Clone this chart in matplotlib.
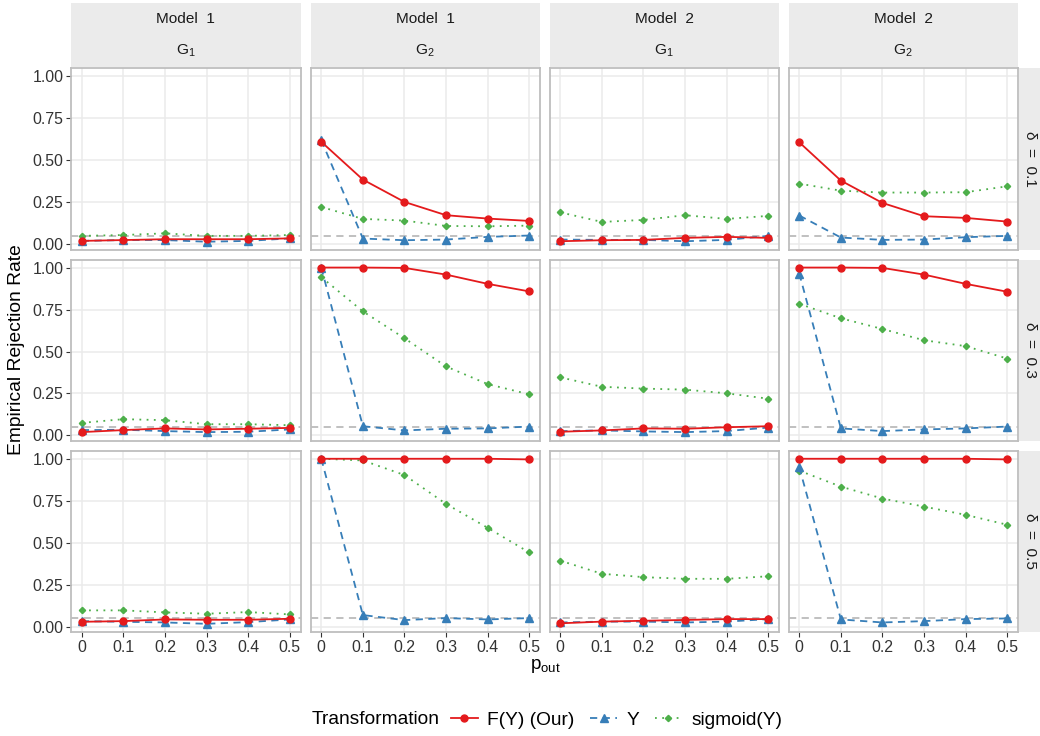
import matplotlib
matplotlib.use("Agg")
import matplotlib.pyplot as plt
from matplotlib.lines import Line2D

plt.rcParams['font.family'] = ['Liberation Sans', 'DejaVu Sans']
plt.rcParams['mathtext.fontset'] = 'custom'
plt.rcParams['mathtext.rm'] = 'Liberation Sans'
plt.rcParams['mathtext.it'] = 'Liberation Sans:italic'

p_out = [0, 0.1, 0.2, 0.3, 0.4, 0.5]
models = ["Model  1", "Model  1", "Model  2", "Model  2"]
groups = ["1", "2", "1", "2"]
deltas = ["0.1", "0.3", "0.5"]
alpha_level = 0.05

# values per column (Model/G), each a list over delta = 0.1, 0.3, 0.5
f_y = [
    [[0.02, 0.025, 0.03, 0.03, 0.03, 0.035],
     [0.02, 0.032, 0.042, 0.036, 0.04, 0.045],
     [0.029, 0.033, 0.043, 0.041, 0.041, 0.047]],
    [[0.61, 0.385, 0.252, 0.173, 0.153, 0.139],
     [1.0, 1.0, 0.998, 0.958, 0.903, 0.858],
     [1.0, 1.0, 1.0, 1.0, 1.0, 0.996]],
    [[0.018, 0.024, 0.026, 0.038, 0.044, 0.038],
     [0.022, 0.03, 0.042, 0.04, 0.049, 0.055],
     [0.02, 0.03, 0.035, 0.04, 0.045, 0.045]],
    [[0.607, 0.379, 0.246, 0.167, 0.157, 0.135],
     [1.0, 1.0, 0.998, 0.958, 0.903, 0.856],
     [1.0, 1.0, 1.0, 1.0, 1.0, 0.996]],
]
y_raw = [
    [[0.02, 0.025, 0.025, 0.015, 0.02, 0.035],
     [0.032, 0.034, 0.026, 0.02, 0.022, 0.036],
     [0.033, 0.029, 0.025, 0.017, 0.027, 0.043]],
    [[0.62, 0.034, 0.024, 0.028, 0.044, 0.052],
     [1.0, 0.055, 0.03, 0.04, 0.042, 0.053],
     [1.0, 0.069, 0.039, 0.051, 0.043, 0.051]],
    [[0.028, 0.026, 0.026, 0.018, 0.026, 0.05],
     [0.026, 0.03, 0.024, 0.02, 0.026, 0.047],
     [0.025, 0.03, 0.03, 0.025, 0.03, 0.045]],
    [[0.171, 0.04, 0.026, 0.028, 0.042, 0.05],
     [0.964, 0.042, 0.026, 0.036, 0.042, 0.053],
     [0.949, 0.043, 0.025, 0.033, 0.045, 0.049]],
]
sig_y = [
    [[0.05, 0.055, 0.065, 0.05, 0.05, 0.055],
     [0.075, 0.097, 0.091, 0.067, 0.067, 0.061],
     [0.097, 0.097, 0.085, 0.077, 0.087, 0.073]],
    [[0.222, 0.151, 0.141, 0.109, 0.107, 0.111],
     [0.943, 0.739, 0.579, 0.411, 0.306, 0.245],
     [1.0, 0.99, 0.903, 0.731, 0.589, 0.442]],
    [[0.19, 0.133, 0.145, 0.173, 0.151, 0.169],
     [0.346, 0.29, 0.279, 0.273, 0.251, 0.219],
     [0.393, 0.315, 0.295, 0.285, 0.285, 0.30]],
    [[0.361, 0.319, 0.308, 0.308, 0.31, 0.345],
     [0.784, 0.698, 0.634, 0.567, 0.532, 0.458],
     [0.929, 0.834, 0.763, 0.715, 0.666, 0.607]],
]

series_names = ["F(Y) (Our)", "Y", "sigmoid(Y)"]
colors = ["#E41A1C", "#377EB8", "#4DAF4A"]
styles = ["-", (0, (4, 3)), (0, (1, 3))]
marks = ["o", "^", "D"]
msizes = [5, 5.5, 3.2]

W, H = 1040, 736
fig = plt.figure(figsize=(W / 100, H / 100), dpi=100)

col_left = [71, 310.5, 549.5, 788.5]
col_w = 229.5
row_top = [68.3, 259.5, 450.7]
row_h = 181.5
tick_col = "#333333"

for c in range(4):
    for r in range(3):
        ax = fig.add_axes([col_left[c] / W, 1 - (row_top[r] + row_h) / H, col_w / W, row_h / H])
        ax.set_xlim(-0.026, 0.526)
        ax.set_ylim(-0.033, 1.048)
        ax.set_xticks(p_out)
        ax.set_yticks([0, 0.25, 0.5, 0.75, 1.0])
        ax.grid(True, color="#EBEBEB", lw=1.1)
        ax.set_axisbelow(True)
        for s in ax.spines.values():
            s.set_color("#BEBEBE")
            s.set_linewidth(1.3)
        ax.axhline(alpha_level, color="#BBBBBB", lw=1.3, ls=(0, (4, 3)), zorder=1)
        data = [f_y[c][r], y_raw[c][r], sig_y[c][r]]
        for k in range(3):
            ax.plot(p_out, data[k], color=colors[k], ls=styles[k], lw=1.3,
                    marker=marks[k], ms=msizes[k], zorder=3 + (2 - k))
        ax.tick_params(length=3.5, width=0.8, color=tick_col, labelcolor=tick_col,
                       labelsize=11.4, pad=2)
        if c == 0:
            ax.set_yticklabels(["0.00", "0.25", "0.50", "0.75", "1.00"])
        else:
            ax.tick_params(axis="y", length=0, labelleft=False)
        if r == 2:
            ax.set_xticklabels(["0", "0.1", "0.2", "0.3", "0.4", "0.5"])
        else:
            ax.tick_params(axis="x", length=0, labelbottom=False)

# top strips
for c in range(4):
    sx = fig.add_axes([col_left[c] / W, 1 - 66.7 / H, col_w / W, 64 / H])
    sx.set_facecolor("#EBEBEB")
    sx.set_xticks([])
    sx.set_yticks([])
    for s in sx.spines.values():
        s.set_visible(False)
    sx.text(0.5, 1 - (19 - 2.7) / 64, models[c], ha="center", va="center",
            fontsize=11.1, color="#1A1A1A", transform=sx.transAxes)
    sx.text(0.5, 1 - (50.5 - 2.7) / 64, r"$\mathregular{G_" + groups[c] + "}$", ha="center",
            va="center", fontsize=11.1, color="#1A1A1A", transform=sx.transAxes)

# right strips
for r in range(3):
    sx = fig.add_axes([1019 / W, 1 - (row_top[r] + row_h) / H, 21 / W, row_h / H])
    sx.set_facecolor("#EBEBEB")
    sx.set_xticks([])
    sx.set_yticks([])
    for s in sx.spines.values():
        s.set_visible(False)
    sx.text(0.5, 0.5, "δ  =  " + deltas[r], rotation=270, ha="center", va="center",
            fontsize=11.1, color="#1A1A1A", transform=sx.transAxes)

fig.text(17 / W, 1 - 350 / H, "Empirical Rejection Rate", rotation=90, ha="center",
         va="center", fontsize=13.9)
fig.text(545 / W, 1 - 666 / H, r"$\mathregular{p_{out}}$", ha="center", va="center",
         fontsize=13.5)

fig.text(312 / W, 1 - 720 / H, "Transformation", ha="left", va="center", fontsize=13.8)
handles = [Line2D([], [], color=colors[k], ls=styles[k], lw=1.3, marker=marks[k],
                  ms=msizes[k]) for k in range(3)]
fig.legend(handles, series_names, loc="center left", bbox_to_anchor=(451 / W, 1 - 720 / H),
           ncol=3, frameon=False, fontsize=13.8, handlelength=1.4, handletextpad=0.5,
           columnspacing=0.8, borderaxespad=0, borderpad=0)

fig.savefig("out.png", dpi=100)
